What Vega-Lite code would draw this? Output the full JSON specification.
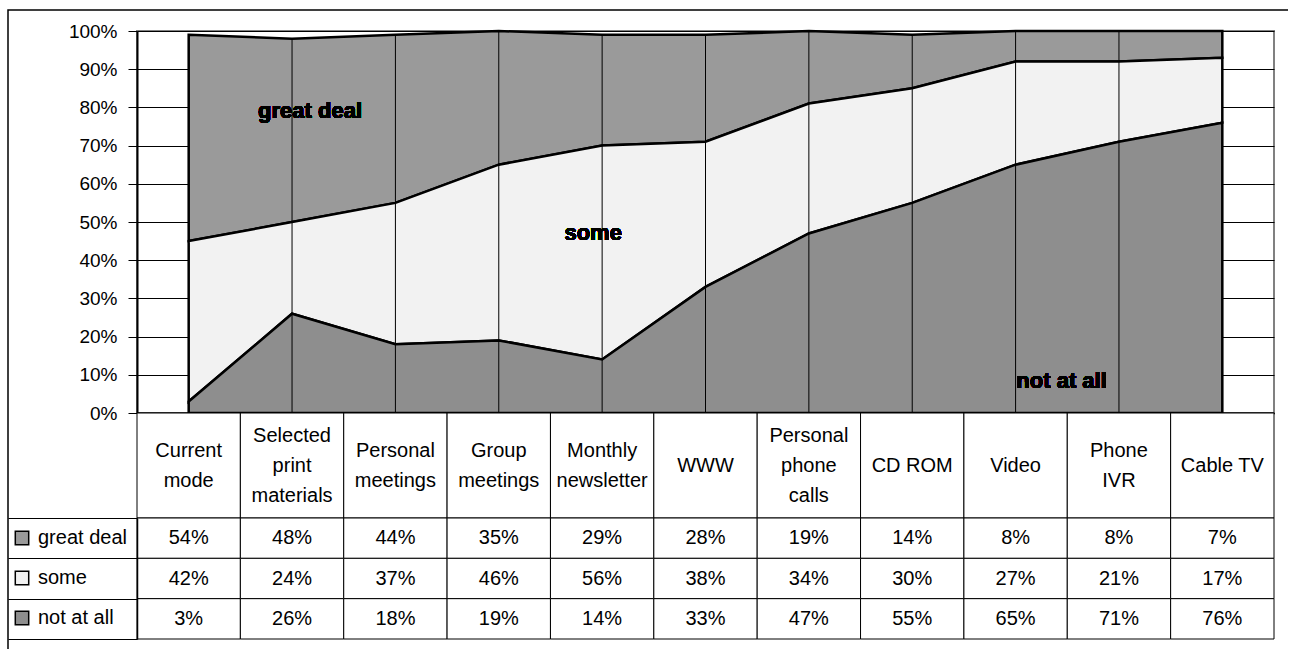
{
  "$schema": "https://vega.github.io/schema/vega-lite/v6.json",
  "autosize": {"type": "pad"},
  "padding": {"left": 7, "top": 9, "right": -48, "bottom": -684},
  "background": "white",
  "bounds": "flush",
  "spacing": 0,
  "config": {
    "font": "Liberation Sans",
    "view": {"stroke": null},
    "text": {"color": "black"},
    "axisQuantitative": {
      "tickCount": 10,
      "labelOverlap": false,
      "labelExpr": "format(datum.value, '.0%')",
      "labelFontSize": 19,
      "labelColor": "black",
      "labelPadding": 11,
      "tickSize": 9,
      "tickColor": "black",
      "domainColor": "black",
      "domainWidth": 2,
      "grid": true,
      "gridColor": "black",
      "gridWidth": 1
    }
  },
  "datasets": {
    "ratings": [
      {"mode": "Current mode", "series": "great deal", "value": 0.54},
      {"mode": "Current mode", "series": "some", "value": 0.42},
      {"mode": "Current mode", "series": "not at all", "value": 0.03},
      {"mode": "Selected print materials", "series": "great deal", "value": 0.48},
      {"mode": "Selected print materials", "series": "some", "value": 0.24},
      {"mode": "Selected print materials", "series": "not at all", "value": 0.26},
      {"mode": "Personal meetings", "series": "great deal", "value": 0.44},
      {"mode": "Personal meetings", "series": "some", "value": 0.37},
      {"mode": "Personal meetings", "series": "not at all", "value": 0.18},
      {"mode": "Group meetings", "series": "great deal", "value": 0.35},
      {"mode": "Group meetings", "series": "some", "value": 0.46},
      {"mode": "Group meetings", "series": "not at all", "value": 0.19},
      {"mode": "Monthly newsletter", "series": "great deal", "value": 0.29},
      {"mode": "Monthly newsletter", "series": "some", "value": 0.56},
      {"mode": "Monthly newsletter", "series": "not at all", "value": 0.14},
      {"mode": "WWW", "series": "great deal", "value": 0.28},
      {"mode": "WWW", "series": "some", "value": 0.38},
      {"mode": "WWW", "series": "not at all", "value": 0.33},
      {"mode": "Personal phone calls", "series": "great deal", "value": 0.19},
      {"mode": "Personal phone calls", "series": "some", "value": 0.34},
      {"mode": "Personal phone calls", "series": "not at all", "value": 0.47},
      {"mode": "CD ROM", "series": "great deal", "value": 0.14},
      {"mode": "CD ROM", "series": "some", "value": 0.30},
      {"mode": "CD ROM", "series": "not at all", "value": 0.55},
      {"mode": "Video", "series": "great deal", "value": 0.08},
      {"mode": "Video", "series": "some", "value": 0.27},
      {"mode": "Video", "series": "not at all", "value": 0.65},
      {"mode": "Phone IVR", "series": "great deal", "value": 0.08},
      {"mode": "Phone IVR", "series": "some", "value": 0.21},
      {"mode": "Phone IVR", "series": "not at all", "value": 0.71},
      {"mode": "Cable TV", "series": "great deal", "value": 0.07},
      {"mode": "Cable TV", "series": "some", "value": 0.17},
      {"mode": "Cable TV", "series": "not at all", "value": 0.76}
    ],
    "modes": [
      {"mode": "Current mode", "label": "Current\nmode"},
      {"mode": "Selected print materials", "label": "Selected\nprint\nmaterials"},
      {"mode": "Personal meetings", "label": "Personal\nmeetings"},
      {"mode": "Group meetings", "label": "Group\nmeetings"},
      {"mode": "Monthly newsletter", "label": "Monthly\nnewsletter"},
      {"mode": "WWW", "label": "WWW"},
      {"mode": "Personal phone calls", "label": "Personal\nphone\ncalls"},
      {"mode": "CD ROM", "label": "CD ROM"},
      {"mode": "Video", "label": "Video"},
      {"mode": "Phone IVR", "label": "Phone\nIVR"},
      {"mode": "Cable TV", "label": "Cable TV"}
    ]
  },
  "vconcat": [
    {
      "width": 1137,
      "height": 382,
      "view": {"stroke": "#808080", "strokeWidth": 2},
      "data": {"name": "ratings"},
      "encoding": {
        "x": {
          "field": "mode",
          "type": "ordinal",
          "scale": {
            "type": "point",
            "padding": 0.5,
            "domain": ["Current mode", "Selected print materials", "Personal meetings", "Group meetings", "Monthly newsletter", "WWW", "Personal phone calls", "CD ROM", "Video", "Phone IVR", "Cable TV"]
          },
          "axis": {"labels": false, "ticks": false, "grid": false, "title": null, "domainColor": "black", "domainWidth": 2}
        }
      },
      "layer": [
        {
          "transform": [
            {"calculate": "indexof(['not at all', 'some', 'great deal'], datum.series)", "as": "stackRank"}
          ],
          "mark": {"type": "area", "stroke": "black", "strokeWidth": 2.5, "strokeJoin": "miter"},
          "encoding": {
            "y": {
              "field": "value",
              "type": "quantitative",
              "stack": "zero",
              "title": null,
              "scale": {"domain": [0, 1], "nice": false}
            },
            "fill": {
              "field": "series",
              "type": "nominal",
              "scale": {"domain": ["great deal", "some", "not at all"], "range": ["#9a9a9a", "#f2f2f2", "#8e8e8e"]},
              "legend": {
                "orient": "none",
                "legendX": -125,
                "legendY": 497,
                "title": null,
                "padding": 0,
                "symbolType": "square",
                "symbolSize": 180,
                "symbolStrokeColor": "black",
                "symbolStrokeWidth": 1.5,
                "symbolOpacity": 1,
                "labelFontSize": 20,
                "labelColor": "black",
                "labelOffset": 6,
                "rowPadding": 20
              }
            },
            "order": {"field": "stackRank", "type": "quantitative"}
          }
        },
        {
          "transform": [
            {"aggregate": [{"op": "sum", "field": "value", "as": "total"}], "groupby": ["mode"]}
          ],
          "mark": {"type": "rule", "strokeWidth": 1},
          "encoding": {
            "y": {"field": "total", "type": "quantitative", "title": null},
            "y2": {"datum": 0},
            "stroke": {
              "datum": "drop line",
              "type": "nominal",
              "scale": {"range": ["black"]},
              "legend": {
                "orient": "none",
                "legendX": -129,
                "legendY": -21,
                "title": null,
                "padding": 660,
                "strokeColor": "black",
                "labelFontSize": 1,
                "labelExpr": "''",
                "symbolSize": 1,
                "symbolOpacity": 0,
                "encode": {"legend": {"update": {"strokeWidth": {"value": 1.5}}}}
              }
            }
          }
        },
        {
          "mark": {"type": "text", "text": "great deal", "fontSize": 22, "fontWeight": "bold", "baseline": "middle", "dx": 18},
          "encoding": {
            "x": {"datum": "Selected print materials"},
            "y": {"datum": 0.79}
          }
        },
        {
          "mark": {"type": "text", "text": "some", "fontSize": 22, "fontWeight": "bold", "baseline": "middle", "dx": -9},
          "encoding": {
            "x": {"datum": "Monthly newsletter"},
            "y": {"datum": 0.47}
          }
        },
        {
          "mark": {"type": "text", "text": "not at all", "fontSize": 22, "fontWeight": "bold", "baseline": "middle", "dx": 46},
          "encoding": {
            "x": {"datum": "Video"},
            "y": {"datum": 0.084}
          }
        }
      ]
    },
    {
      "width": 1137,
      "height": 105,
      "data": {"name": "modes"},
      "encoding": {
        "x": {"field": "mode", "type": "nominal", "sort": null, "scale": {"paddingInner": 0, "paddingOuter": 0}, "axis": null}
      },
      "layer": [
        {"mark": {"type": "rect", "fill": "white", "stroke": "black", "strokeWidth": 1}},
        {
          "transform": [{"filter": "length(split(datum.label, '\\n')) == 1"}],
          "mark": {"type": "text", "fontSize": 20, "lineBreak": "\n", "lineHeight": 30, "baseline": "middle"},
          "encoding": {"text": {"field": "label"}}
        },
        {
          "transform": [{"filter": "length(split(datum.label, '\\n')) == 2"}],
          "mark": {"type": "text", "fontSize": 20, "lineBreak": "\n", "lineHeight": 30, "baseline": "middle", "dy": -15},
          "encoding": {"text": {"field": "label"}}
        },
        {
          "transform": [{"filter": "length(split(datum.label, '\\n')) == 3"}],
          "mark": {"type": "text", "fontSize": 20, "lineBreak": "\n", "lineHeight": 30, "baseline": "middle", "dy": -30},
          "encoding": {"text": {"field": "label"}}
        }
      ]
    },
    {
      "width": 1137,
      "height": 121,
      "data": {"name": "ratings"},
      "encoding": {
        "x": {"field": "mode", "type": "nominal", "sort": null, "scale": {"paddingInner": 0, "paddingOuter": 0}, "axis": null},
        "y": {
          "field": "series",
          "type": "nominal",
          "sort": ["great deal", "some", "not at all"],
          "scale": {"paddingInner": 0, "paddingOuter": 0},
          "axis": {"title": null, "labels": false, "grid": false, "tickBand": "extent", "tickSize": 129, "tickColor": "black", "tickWidth": 1, "domainColor": "black", "domainWidth": 1.5}
        }
      },
      "layer": [
        {"mark": {"type": "rect", "fill": "white", "stroke": "black", "strokeWidth": 1}},
        {
          "mark": {"type": "text", "fontSize": 20, "baseline": "middle"},
          "encoding": {"text": {"field": "value", "type": "quantitative", "format": ".0%"}}
        }
      ]
    }
  ]
}
